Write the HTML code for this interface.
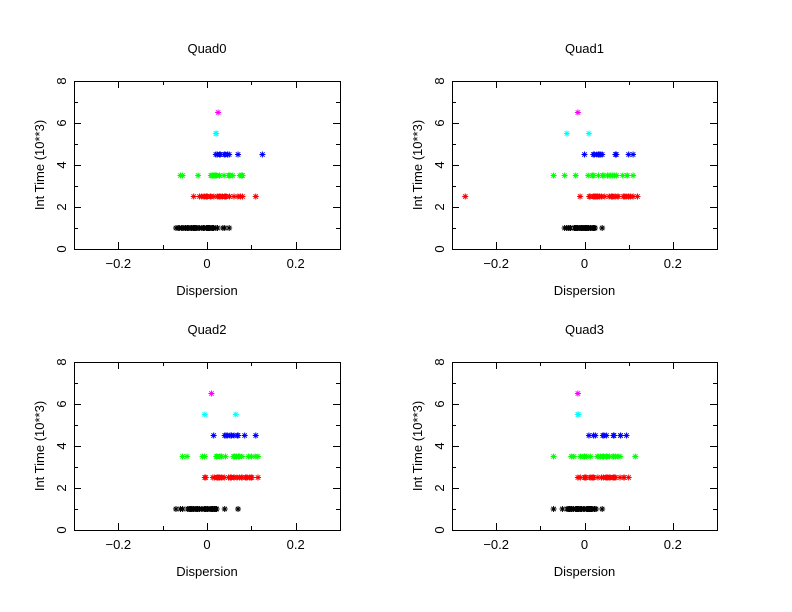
<!DOCTYPE html>
<html><head><meta charset="utf-8"><style>
html,body{margin:0;padding:0;background:#fff;}
svg{display:block;font-family:"Liberation Sans",sans-serif;}
</style></head><body>
<svg id="s" width="792" height="612" xmlns="http://www.w3.org/2000/svg"></svg>
<script>
var s=document.getElementById('s');var out='';
var panels=[
 {t:'Quad0',x0:74,x1:340,y0:81,y1:249,d:[
  ['#000',1,[[-0.07,0.04,45]],[0.05,-0.065]],
  ['#f00',2.5,[[-0.03,0.08,30]],[0.11]],
  ['#0f0',3.5,[[-0.02,0.08,16]],[-0.06,-0.055,0.078,0.08]],
  ['#00f',4.5,[[0.02,0.05,8]],[0.07,0.125]],
  ['#0ff',5.5,[],[0.02,0.021]],
  ['#f0f',6.5,[],[0.025]]]},
 {t:'Quad1',x0:452,x1:717,y0:81,y1:249,d:[
  ['#000',1,[[-0.045,0.04,40]],[]],
  ['#f00',2.5,[[-0.01,0.12,30]],[-0.27]],
  ['#0f0',3.5,[[-0.02,0.11,16]],[-0.07,-0.045]],
  ['#00f',4.5,[[0.02,0.04,5]],[0,0.07,0.072,0.1,0.11]],
  ['#0ff',5.5,[],[-0.04,0.01]],
  ['#f0f',6.5,[],[-0.015]]]},
 {t:'Quad2',x0:74,x1:340,y0:362,y1:530,d:[
  ['#000',1,[[-0.06,0.04,40]],[-0.07,0.07]],
  ['#f00',2.5,[[-0.005,0.115,30]],[]],
  ['#0f0',3.5,[[-0.01,0.115,18]],[-0.055,-0.045]],
  ['#00f',4.5,[[0.04,0.07,7]],[0.015,0.085,0.11]],
  ['#0ff',5.5,[],[-0.005,0.065]],
  ['#f0f',6.5,[],[0.01]]]},
 {t:'Quad3',x0:452,x1:717,y0:362,y1:530,d:[
  ['#000',1,[[-0.05,0.04,40]],[-0.07]],
  ['#f00',2.5,[[-0.015,0.1,30]],[]],
  ['#0f0',3.5,[[-0.03,0.115,20]],[-0.07]],
  ['#00f',4.5,[[0.01,0.095,10]],[]],
  ['#0ff',5.5,[],[-0.015,-0.014]],
  ['#f0f',6.5,[],[-0.015]]]}
];
var seed=7;function rnd(){seed=(seed*9301+49297)%233280;return seed/233280;}
function star(x,y,c){var r=3;return '<path d="M'+(x-r)+' '+y+'h'+(2*r)+'M'+x+' '+(y-r)+'v'+(2*r)+'M'+(x-2.2)+' '+(y-2.2)+'l4.4 4.4M'+(x-2.2)+' '+(y+2.2)+'l4.4 -4.4" stroke="'+c+'" stroke-width="1" fill="none"/>';}
panels.forEach(function(p){
 var w=p.x1-p.x0,h=p.y1-p.y0;
 function X(v){return p.x0+(v+0.3)/0.6*w;}
 function Y(v){return p.y1-v/8*h;}
 out+='<rect x="'+p.x0+'.5" y="'+p.y0+'.5" width="'+w+'" height="'+h+'" fill="none" stroke="#000"/>';
 for(var i=-2;i<=2;i++){var x=Math.round(X(i*0.1))+0.5;var L=(i%2==0)?7:4;
  out+='<path d="M'+x+' '+p.y1+'v-'+L+'M'+x+' '+p.y0+'v'+L+'" stroke="#000"/>';}
 [-0.2,0,0.2].forEach(function(v){out+='<text x="'+X(v)+'" y="'+(p.y1+19)+'" font-size="13" text-anchor="middle">'+(v<0?'\u22120.2':v==0?'0':'0.2')+'</text>';});
 for(var j=1;j<8;j++){var y=Math.round(Y(j))+0.5;var L=(j%2==0)?7:4;
  out+='<path d="M'+p.x0+' '+y+'h'+L+'M'+p.x1+' '+y+'h-'+L+'" stroke="#000"/>';}
 for(var j=0;j<=8;j+=2){var yy=Y(j);out+='<text transform="translate('+(p.x0-8)+','+yy+') rotate(-90)" font-size="13" text-anchor="middle">'+j+'</text>';}
 out+='<text transform="translate('+(p.x0-30)+','+(p.y0+h/2)+') rotate(-90)" font-size="13" text-anchor="middle">Int Time (10**3)</text>';
 out+='<text x="'+(p.x0+w/2)+'" y="'+(p.y1+46)+'" font-size="13" text-anchor="middle">Dispersion</text>';
 out+='<text x="'+(p.x0+w/2)+'" y="'+(p.y0-28)+'" font-size="13" text-anchor="middle">'+p.t+'</text>';
 p.d.forEach(function(s){var c=s[0],yv=Y(s[1]);
  s[2].forEach(function(r){for(var k=0;k<r[2];k++){var v=r[0]+(r[1]-r[0])*(k/(r[2]-1)*0.7+rnd()*0.3);out+=star(X(v),yv,c);} out+=star(X(r[0]),yv,c)+star(X(r[1]),yv,c);});
  s[3].forEach(function(v){out+=star(X(v),yv,c);});});
});
s.innerHTML=out;
</script>
</body></html>
